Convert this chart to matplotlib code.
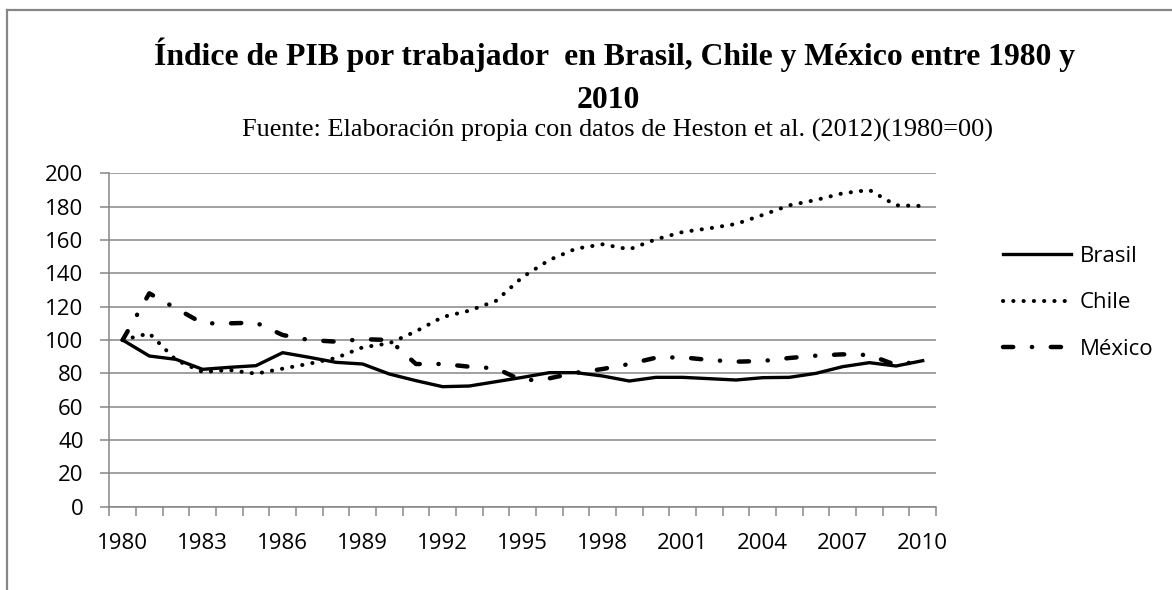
# Índice de PIB por trabajador: Brasil, Chile y México 1980-2010

import matplotlib
matplotlib.use('Agg')
import matplotlib.pyplot as plt
from matplotlib.lines import Line2D

years = list(range(1980, 2011))
brasil = [100, 90.4, 88.4, 82.4, 83.6, 84.6, 92.4, 89.6, 86.6, 85.6, 79.6,
          75.6, 72.0, 72.4, 75.0, 77.6, 80.4, 80.4, 78.4, 75.4, 77.6,
          77.6, 76.8, 76.0, 77.4, 77.6, 80.0, 84.0, 86.4, 84.4, 87.6]
chile = [100, 104, 88, 80.8, 82, 79.8, 82.8, 85.8, 89.2, 95.6, 98,
         105.2, 113.8, 117.6, 123.5, 137.8, 148, 154.8, 157.4, 154.4, 160.4,
         164.8, 167, 169.6, 175, 180.8, 184, 188, 190, 180.8, 180.4]
mexico = [100, 128, 119, 110, 110, 110.4, 103, 100, 99, 100.5, 100,
          85.6, 85.6, 84, 83, 75.6, 77, 80.4, 82.6, 85.6, 89.4,
          89.6, 88, 87, 87.4, 89.2, 90.6, 91.4, 91, 85, 87.6]
series_names = ['Brasil', 'Chile', 'México']
label_years = list(range(1980, 2011, 3))

title_1 = 'Índice de PIB por trabajador  en Brasil, Chile y México entre 1980 y'
title_2 = '2010'
subtitle = 'Fuente: Elaboración propia con datos de Heston et al. (2012)(1980=00)'

GRAY = '#868686'
W, H = 1172, 590

plt.rcParams['font.family'] = ['Open Sans', 'DejaVu Sans']

fig = plt.figure(figsize=(W / 100, H / 100), dpi=100)
ax = fig.add_axes([109.3 / W, 1 - 506.7 / H, (936 - 109.3) / W, (506.7 - 173.3) / H])

ax.plot(years, brasil, color='black', lw=2.4, solid_joinstyle='round',
        label=series_names[0])
ax.plot(years, chile, color='black', lw=2.9, linestyle=(0, (0.05, 2.5)),
        dash_capstyle='round', label=series_names[1])
ax.plot(years, mexico, color='black', lw=3.2, linestyle=(0, (2.3, 4.2, 0.05, 4.2)),
        dash_capstyle='round', label=series_names[2])

ax.set_xlim(1979.5, 2010.5)
ax.set_ylim(0, 200)
ax.set_yticks(range(0, 201, 20))
ax.yaxis.grid(True, color=GRAY, lw=1.1)
ax.set_axisbelow(True)
for s in ['top', 'right']:
    ax.spines[s].set_visible(False)
for s in ['left', 'bottom']:
    ax.spines[s].set_color(GRAY)
    ax.spines[s].set_linewidth(1.1)

# category boundaries get the tick marks, labels sit at the centres
ax.set_xticks([y - 0.5 for y in years] + [years[-1] + 0.5], minor=True)
ax.set_xticks(label_years)
ax.tick_params(axis='x', which='minor', length=6.5, width=1.1, color=GRAY, direction='out')
ax.tick_params(axis='x', which='major', length=0, pad=19, labelsize=16)
ax.tick_params(axis='y', length=6.5, width=1.1, color=GRAY, pad=12, labelsize=16)

leg = ax.legend(loc='center left', bbox_to_anchor=(1003 / W, 1 - 303 / H),
                bbox_transform=fig.transFigure, frameon=False, fontsize=16,
                handlelength=3.06, handletextpad=0.4, labelspacing=1.15,
                borderpad=0, borderaxespad=0)

fig.text(615 / W, 1 - 65 / H, title_1, ha='center', va='baseline', fontsize=22.8,
         fontweight='bold', family='Liberation Serif')
fig.text(608 / W, 1 - 108 / H, title_2, ha='center', va='baseline', fontsize=22.8,
         fontweight='bold', family='Liberation Serif')
fig.text(617 / W, 1 - 137 / H, subtitle, ha='center', va='baseline', fontsize=18.9,
         family='Liberation Serif')

# outer chart frame (cut off at the right and bottom)
fig.add_artist(Line2D([7 / W, 7 / W], [0, 1 - 10 / H], transform=fig.transFigure,
                      color=GRAY, lw=1.6))
fig.add_artist(Line2D([7 / W, 1], [1 - 10 / H, 1 - 10 / H], transform=fig.transFigure,
                      color=GRAY, lw=1.6))

fig.savefig('out.png', dpi=100)
